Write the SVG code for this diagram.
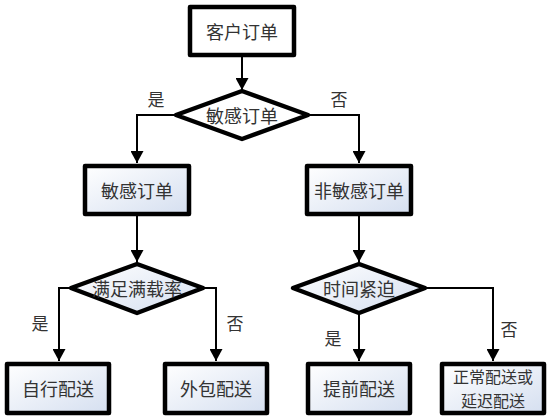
<svg xmlns="http://www.w3.org/2000/svg" width="552" height="418" viewBox="0 0 552 418">
<defs>
<linearGradient id="g" x1="0" y1="0" x2="1" y2="1">
<stop offset="0" stop-color="#ffffff"/>
<stop offset="1" stop-color="#d5dff0"/>
</linearGradient>
<marker id="ah" markerUnits="userSpaceOnUse" markerWidth="13" markerHeight="13" refX="12" refY="6.5" orient="auto">
<path d="M0,0 L12,6.5 L0,13 z" fill="#000"/>
</marker>
</defs>
<style>
.box{stroke:#000;stroke-width:4.5;stroke-linejoin:round}
.g{fill:url(#g)}
.w{fill:#fff}
.c{fill:none;stroke:#000;stroke-width:2;marker-end:url(#ah)}
text{font-family:"Noto Sans CJK SC","Noto Sans CJK JP",sans-serif;font-size:18px;fill:#333;text-anchor:middle;dominant-baseline:central}
.lb{font-size:17px}
.sm{font-size:16px}
</style>
<rect width="552" height="418" fill="#fff"/>
<g id="connectors">
<path class="c" d="M242,56 V90"/>
<path class="c" d="M176,115 H137 V163"/>
<path class="c" d="M308,115 H359 V163"/>
<path class="c" d="M137,216 V262"/>
<path class="c" d="M359,216 V262"/>
<path class="c" d="M71,288 H59 V361"/>
<path class="c" d="M203,288 H216 V361"/>
<path class="c" d="M359,313 V361"/>
<path class="c" d="M424,288 H493 V361"/>
<text class="lb" x="156" y="98">是</text>
<text class="lb" x="339" y="98">否</text>
<text class="lb" x="40" y="322">是</text>
<text class="lb" x="235" y="322">否</text>
<text class="lb" x="333" y="337">是</text>
<text class="lb" x="509" y="328">否</text>
</g>
<g id="n_customer">
<rect class="box w" x="190" y="7" width="104" height="48"/>
<text x="242" y="31">客户订单</text>
</g>
<g id="d_sensitive">
<polygon class="box w" points="242,91 308,115 242,139 176,115"/>
<text x="242" y="115">敏感订单</text>
</g>
<g id="n_sensitive">
<rect class="box g" x="85" y="166" width="104" height="48"/>
<text x="137" y="190">敏感订单</text>
</g>
<g id="n_nonsensitive">
<rect class="box g" x="307" y="166" width="104" height="48"/>
<text x="359" y="190">非敏感订单</text>
</g>
<g id="d_load">
<polygon class="box g" points="137,264 203,288 137,313 71,288"/>
<text x="137" y="288">满足满载率</text>
</g>
<g id="d_time">
<polygon class="box g" points="359,264 425,288 359,313 293,288"/>
<text x="359" y="288">时间紧迫</text>
</g>
<g id="n_self">
<rect class="box g" x="7" y="364" width="102" height="49"/>
<text x="58" y="388">自行配送</text>
</g>
<g id="n_outsource">
<rect class="box g" x="165" y="364" width="102" height="49"/>
<text x="216" y="388">外包配送</text>
</g>
<g id="n_early">
<rect class="box g" x="308" y="364" width="102" height="49"/>
<text x="359" y="388">提前配送</text>
</g>
<g id="n_normal">
<rect class="box g" x="442" y="364" width="102" height="49"/>
<text class="sm" x="493" y="376">正常配送或</text>
<text class="sm" x="493" y="400">延迟配送</text>
</g>
</svg>
